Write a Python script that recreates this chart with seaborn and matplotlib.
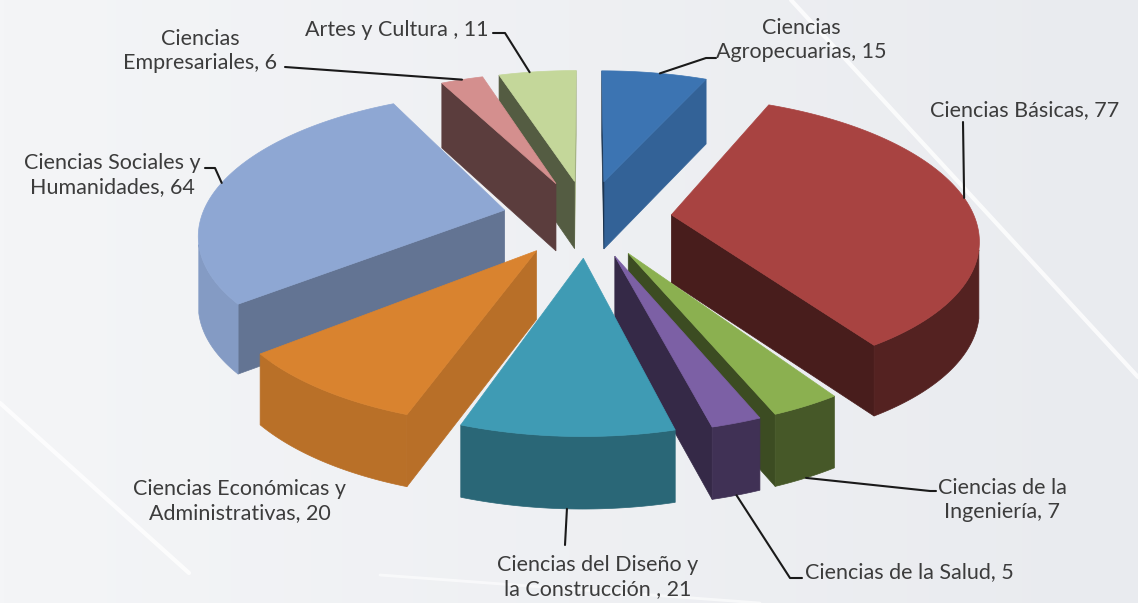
import numpy as np
import matplotlib
matplotlib.use("Agg")
import matplotlib.pyplot as plt
import seaborn as sns
from matplotlib.patches import Polygon

# data, clockwise from the top
categories = ["Ciencias Agropecuarias", "Ciencias Básicas", "Ciencias de la Ingeniería",
              "Ciencias de la Salud", "Ciencias del Diseño y la Construcción",
              "Ciencias Económicas y Administrativas", "Ciencias Sociales y Humanidades",
              "Ciencias Empresariales", "Artes y Cultura"]
values = [15, 77, 7, 5, 21, 20, 64, 6, 11]
labels = ["Ciencias\nAgropecuarias, 15", "Ciencias Básicas, 77", "Ciencias de la\nIngeniería, 7",
          "Ciencias de la Salud, 5", "Ciencias del Diseño y\nla Construcción , 21",
          "Ciencias Económicas y\nAdministrativas, 20", "Ciencias Sociales y\nHumanidades, 64",
          "Ciencias\nEmpresariales, 6", "Artes y Cultura , 11"]
colors = ["#3c74b2", "#a84341", "#8bb050", "#7c60a5", "#3f9bb4",
          "#d9832f", "#8ea7d3", "#d48f8e", "#c4d79a"]

# label layout (pixels): text position, alignment, leader anchor (edge, fraction), leader elbow points
label_pos = [(801, 40, "center"), (930, 110, "left"), (1002, 500, "center"), (805, 572, "left"),
             (598, 577, "center"), (240, 501, "center"), (112, 175, "center"), (200, 51, "center"),
             (397, 30, "center")]
anchors = [(0, 0.55), (0, 0.48), (1, 0.5), (1, 0.5), (1, 0.5), None, (0, 0.5), (0, 0.5), (0, 0.4)]
elbows = [[(706, 58), (716, 58)], [(963, 122)], [(930, 491), (936, 491)], [(790, 578), (802, 578)],
          [(565, 545)], None, [(215, 168), (205, 168)], [(285, 67)], [(505, 33), (493, 33)]]

W, H = 1138, 603
CX, CY = 587, 218
F = 1790.0
EL = np.radians(27)
DIST = 5.9
EXPLODE = 0.28
DEPTH = 68
CAM = np.array([0.0, -DIST * np.cos(EL)])


def project(X, Y, Z=0):
    w = DIST + np.cos(EL) * Y
    return CX + F * X / w, CY - F * np.sin(EL) * Y / w + Z * DEPTH * (DIST / w) ** 0.3


def shade(c, f):
    r, g, b = matplotlib.colors.to_rgb(c)
    return (r * f, g * f, b * f)


sns.set_style("white")
plt.rcParams["font.family"] = ["Lato", "DejaVu Sans"]

fig = plt.figure(figsize=(W / 100, H / 100), dpi=100)
ax = fig.add_axes([0, 0, 1, 1])
ax.set_xlim(0, W)
ax.set_ylim(H, 0)
ax.axis("off")

# background
grad = np.linspace(0, 1, 256)[None, :]
bg = matplotlib.colors.LinearSegmentedColormap.from_list("bg", ["#f4f5f7", "#e9ebef"])
ax.imshow(grad, extent=[0, W, H, 0], cmap=bg, aspect="auto", zorder=0)
ax.plot([791, W], [0, 377], color="white", lw=3, alpha=0.8, zorder=0.5)
ax.plot([0, 189], [403, 573], color="white", lw=3, alpha=0.8, zorder=0.5)
ax.plot([380, 760], [575, 603], color="white", lw=2, alpha=0.6, zorder=0.5)

total = sum(values)
bounds = 90 - np.cumsum([0] + values) / total * 360
wedges = []
for i, v in enumerate(values):
    hi, lo = bounds[i], bounds[i + 1]
    mid = np.radians((hi + lo) / 2)
    E = EXPLODE * np.array([np.cos(mid), np.sin(mid)])
    wedges.append((i, np.radians(lo), np.radians(hi), E))

z = 2
for i, lo, hi, E in sorted(wedges, key=lambda t: -t[3][1]):
    col = colors[i]
    th = np.linspace(lo, hi, 120)
    rx = E[0] + np.cos(th)
    ry = E[1] + np.sin(th)
    # cut faces
    for a, sign in ((lo, -1), (hi, 1)):
        n = np.array([np.cos(a + sign * np.pi / 2), np.sin(a + sign * np.pi / 2)])
        if np.dot(CAM - E, n) > 0:
            px, py = E[0] + np.cos(a), E[1] + np.sin(a)
            pts = [project(E[0], E[1], 0), project(px, py, 0), project(px, py, 1), project(E[0], E[1], 1)]
            deg = np.degrees(np.arctan2(n[1], n[0]))
            f = 0.43 + 0.42 * max(0, np.cos(np.radians(deg - 340))) ** 3
            ax.add_patch(Polygon(pts, closed=True, fc=shade(col, f), ec=shade(col, f), lw=0.5, zorder=z))
            z += 0.01
    # outer rim
    vis = ((CAM[0] - rx) * np.cos(th) + (CAM[1] - ry) * np.sin(th)) > 0
    if vis.any():
        idx = np.where(vis)[0]
        tx, ty = project(rx[idx], ry[idx], 0)
        bx, by = project(rx[idx], ry[idx], 1)
        pts = np.column_stack([np.r_[tx, bx[::-1]], np.r_[ty, by[::-1]]])
        mdeg = np.degrees(np.mean(th[idx]))
        f = 0.5 + 0.43 * max(0, np.cos(np.radians(mdeg - 200)))
        ax.add_patch(Polygon(pts, closed=True, fc=shade(col, f), ec=shade(col, f), lw=0.5, zorder=z))
        z += 0.01
    # top face
    tx, ty = project(rx, ry, 0)
    ax0, ay0 = project(E[0], E[1], 0)
    pts = np.column_stack([np.r_[ax0, tx], np.r_[ay0, ty]])
    ax.add_patch(Polygon(pts, closed=True, fc=col, ec=col, lw=0.5, zorder=z))
    z += 0.01

# labels and leader lines
for i, (lx, ly, ha) in enumerate(label_pos):
    ax.text(lx, ly, labels[i], ha=ha, va="center", multialignment="center",
            fontsize=15.5, color="#3c3c3c", zorder=10, linespacing=1.3)
    if anchors[i] is None:
        continue
    edge, frac = anchors[i]
    _, lo, hi, E = wedges[i]
    a = hi - frac * (hi - lo)
    p = project(E[0] + np.cos(a), E[1] + np.sin(a), edge)
    path = [p] + elbows[i]
    ax.plot([q[0] for q in path], [q[1] for q in path], color="#1a1a1a", lw=1.5, zorder=9)

fig.savefig("out.png", dpi=100)
